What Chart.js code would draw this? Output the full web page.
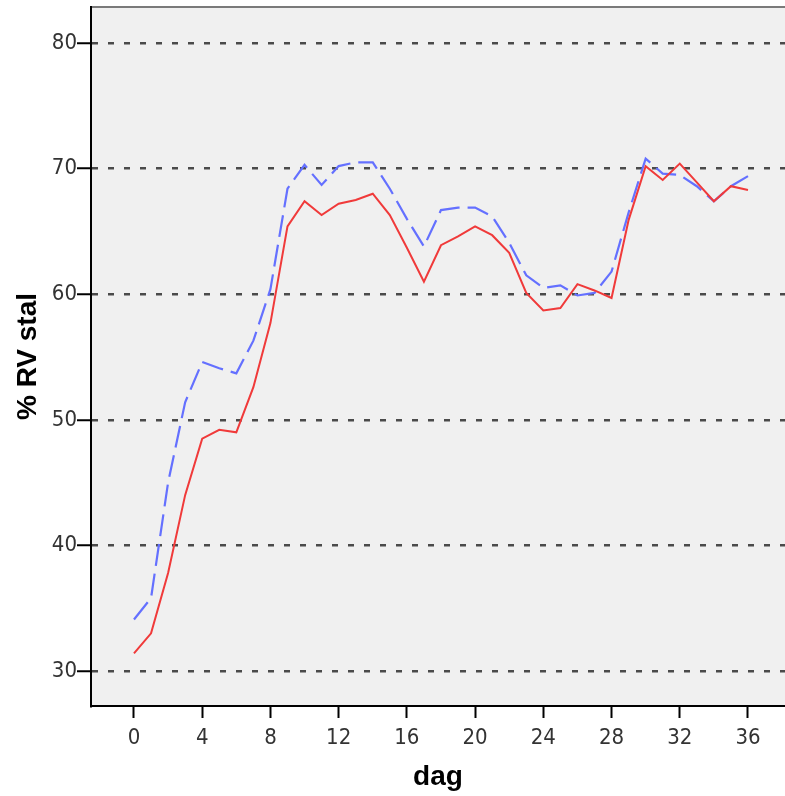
<!DOCTYPE html>
<html>
<head>
<meta charset="utf-8">
<script src="https://cdn.jsdelivr.net/npm/chart.js@4.4.1/dist/chart.umd.min.js"></script>
<style>
  html, body { margin: 0; padding: 0; background: #fff; }
  #wrap { position: relative; width: 785px; height: 796px; }
</style>
</head>
<body>
<div id="wrap"><canvas id="rvChart"></canvas></div>
<script>
// days on the x axis
const days = [0,1,2,3,4,5,6,7,8,9,10,11,12,13,14,15,16,17,18,19,20,21,22,23,24,25,26,27,28,29,30,31,32,33,34,35,36];

// red solid line
const redValues = [31.4, 33.0, 37.8, 44.0, 48.5, 49.2, 49.0, 52.6, 57.7, 65.4, 67.4, 66.3, 67.2, 67.5, 68.0,
  66.3, 63.7, 61.0, 63.9, 64.6, 65.4, 64.7, 63.3, 60.1, 58.7, 58.9, 60.8, 60.3, 59.7, 65.9, 70.2, 69.1, 70.4,
  68.9, 67.4, 68.6, 68.3];

// blue dashed line
const blueValues = [34.1, 35.8, 45.0, 51.4, 54.6, 54.1, 53.7, 56.3, 60.4, 68.4, 70.3, 68.7, 70.2, 70.5, 70.5,
  68.4, 66.0, 63.8, 66.7, 66.9, 66.9, 66.2, 64.1, 61.5, 60.5, 60.7, 59.9, 60.1, 61.8, 66.5, 70.8, 69.6, 69.5,
  68.6, 67.4, 68.6, 69.4];

const xTicks = [0, 4, 8, 12, 16, 20, 24, 28, 32, 36];
const yTicks = [30, 40, 50, 60, 70, 80];

const tickFont = { family: "'Liberation Sans Narrow', 'DejaVu Sans Condensed', sans-serif", size: 22 };
const titleFont = { family: "'Liberation Sans', Arial, sans-serif", size: 28, weight: 'bold' };

// plot background + top frame line
const framePlugin = {
  id: 'frame',
  beforeDraw(chart) {
    const { ctx, chartArea: a } = chart;
    ctx.save();
    ctx.fillStyle = '#f0f0f0';
    ctx.fillRect(a.left, a.top, a.right - a.left, a.bottom - a.top);
    ctx.strokeStyle = '#7a7a7a';
    ctx.lineWidth = 2;
    ctx.beginPath();
    ctx.moveTo(a.left, a.top);
    ctx.lineTo(a.right, a.top);
    ctx.stroke();
    ctx.restore();
  }
};

const ctx = document.getElementById('rvChart').getContext('2d');
new Chart(ctx, {
  type: 'line',
  data: {
    datasets: [{
      data: days.map((d, i) => ({ x: d, y: redValues[i] })),
      borderColor: '#f03a3a',
      borderWidth: 2,
      pointRadius: 0,
      tension: 0,
      fill: false
    }, {
      data: days.map((d, i) => ({ x: d, y: blueValues[i] })),
      borderColor: '#6470ff',
      borderWidth: 2.2,
      borderDash: [22, 8],
      pointRadius: 0,
      tension: 0,
      fill: false
    }]
  },
  options: {
    responsive: true,
    maintainAspectRatio: false,
    animation: false,
    layout: { padding: { left: 0, right: 0, top: 7, bottom: 0 } },
    plugins: {
      legend: { display: false },
      tooltip: { enabled: false }
    },
    scales: {
      x: {
        type: 'linear',
        min: -2.52,
        max: 38.17,
        afterBuildTicks: (scale) => { scale.ticks = xTicks.map(v => ({ value: v })); },
        afterFit: (scale) => {
          scale.height = 90;
          scale.paddingLeft = 0;
          scale.paddingRight = 0;
        },
        border: { display: true, color: '#000', width: 2 },
        grid: { drawOnChartArea: false, drawTicks: true, tickLength: 12, tickColor: '#000', tickWidth: 2 },
        ticks: { color: '#333', font: tickFont, padding: 7, maxRotation: 0 },
        title: { display: true, text: 'dag', color: '#000', font: titleFont, padding: { bottom: 2 } }
      },
      y: {
        min: 27.21,
        max: 82.87,
        afterBuildTicks: (scale) => { scale.ticks = yTicks.map(v => ({ value: v })); },
        afterFit: (scale) => {
          scale.width = 91;
          scale.paddingTop = 0;
          scale.paddingBottom = 0;
        },
        border: { display: true, color: '#000', width: 2, dash: [6, 10] },
        grid: {
          color: '#4a4a4a',
          lineWidth: 2.5,
          drawTicks: true,
          tickLength: 14,
          tickColor: '#000',
          tickWidth: 2,
          tickBorderDash: []
        },
        ticks: { color: '#333', font: tickFont, padding: 0 },
        title: { display: true, text: '% RV stal', color: '#000', font: titleFont, padding: { top: 11 } }
      }
    }
  },
  plugins: [framePlugin]
});
</script>
</body>
</html>
